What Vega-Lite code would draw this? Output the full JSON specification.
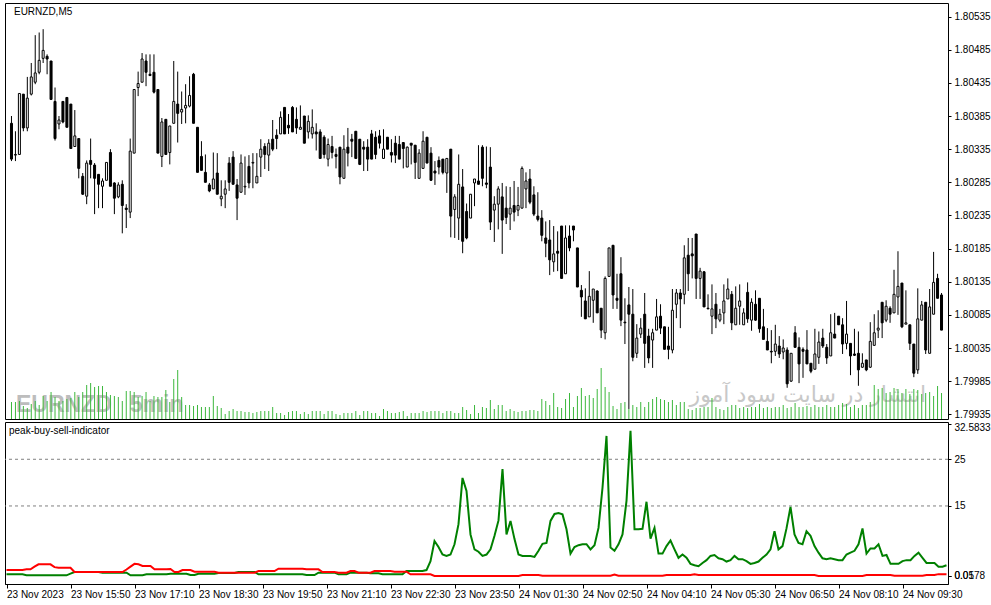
{
"$schema":"https://vega.github.io/schema/vega-lite/v6.json",
"background":"white",
"padding":{"left":2,"top":2,"right":0,"bottom":0},
"spacing":3,
"bounds":"flush",
"config":{"view":{"stroke":"black","strokeWidth":1},"font":"Liberation Sans","axis":{"labelFont":"Liberation Sans","labelFontSize":10,"labelColor":"black","tickColor":"black","domainColor":"black","grid":false,"title":null,"labelOverlap":false}},
"data":{"values":[
{"i":0,"o":1.80374,"h":1.80385,"l":1.80317,"c":1.80320,"v":170,"g":0.36,"r":1.28},
{"i":1,"o":1.80326,"h":1.80362,"l":1.80317,"c":1.80327,"v":170,"g":0.36,"r":1.28},
{"i":2,"o":1.80327,"h":1.80419,"l":1.80327,"c":1.80419,"v":180,"g":0.36,"r":1.28},
{"i":3,"o":1.80418,"h":1.80418,"l":1.80362,"c":1.80367,"v":130,"g":0.36,"r":1.28},
{"i":4,"o":1.80367,"h":1.80444,"l":1.80362,"c":1.80412,"v":110,"g":0.36,"r":1.28},
{"i":5,"o":1.80418,"h":1.80465,"l":1.80416,"c":1.80444,"v":150,"g":0.15,"r":1.43},
{"i":6,"o":1.80436,"h":1.80507,"l":1.80433,"c":1.80450,"v":180,"g":0.15,"r":1.43},
{"i":7,"o":1.80451,"h":1.80511,"l":1.80448,"c":1.80469,"v":140,"g":0.15,"r":2.0},
{"i":8,"o":1.80472,"h":1.80516,"l":1.80465,"c":1.80484,"v":230,"g":0.15,"r":2.5},
{"i":9,"o":1.80475,"h":1.80478,"l":1.80448,"c":1.80471,"v":180,"g":0.15,"r":2.5},
{"i":10,"o":1.80468,"h":1.80468,"l":1.80410,"c":1.80410,"v":270,"g":0.15,"r":2.5},
{"i":11,"o":1.80407,"h":1.80428,"l":1.80348,"c":1.80351,"v":220,"g":0.15,"r":2.5},
{"i":12,"o":1.80373,"h":1.80385,"l":1.80365,"c":1.80379,"v":180,"g":0.15,"r":1.9},
{"i":13,"o":1.80407,"h":1.80407,"l":1.80374,"c":1.80376,"v":180,"g":0.15,"r":1.78},
{"i":14,"o":1.80413,"h":1.80413,"l":1.80368,"c":1.80368,"v":200,"g":0.15,"r":1.78},
{"i":15,"o":1.80403,"h":1.80403,"l":1.80336,"c":1.80336,"v":210,"g":0.15,"r":1.78},
{"i":16,"o":1.80339,"h":1.80394,"l":1.80339,"c":1.80355,"v":270,"g":0.5,"r":1.78},
{"i":17,"o":1.80351,"h":1.80351,"l":1.80291,"c":1.80306,"v":220,"g":0.86,"r":0.86},
{"i":18,"o":1.80294,"h":1.80299,"l":1.80266,"c":1.80267,"v":270,"g":0.86,"r":0.86},
{"i":19,"o":1.80264,"h":1.80318,"l":1.80252,"c":1.80314,"v":340,"g":0.86,"r":0.86},
{"i":20,"o":1.80318,"h":1.80351,"l":1.80291,"c":1.80312,"v":360,"g":0.86,"r":0.86},
{"i":21,"o":1.80311,"h":1.80314,"l":1.80237,"c":1.80291,"v":320,"g":0.86,"r":0.86},
{"i":22,"o":1.80297,"h":1.80297,"l":1.80246,"c":1.80282,"v":330,"g":0.86,"r":0.86},
{"i":23,"o":1.80279,"h":1.80291,"l":1.80246,"c":1.80287,"v":330,"g":0.86,"r":0.86},
{"i":24,"o":1.80288,"h":1.80315,"l":1.80288,"c":1.80315,"v":270,"g":0.71,"r":0.86},
{"i":25,"o":1.80330,"h":1.80335,"l":1.80279,"c":1.80279,"v":240,"g":0.71,"r":0.86},
{"i":26,"o":1.80284,"h":1.80285,"l":1.80237,"c":1.80261,"v":230,"g":0.71,"r":0.86},
{"i":27,"o":1.80263,"h":1.80285,"l":1.80261,"c":1.80281,"v":220,"g":0.71,"r":0.86},
{"i":28,"o":1.80282,"h":1.80288,"l":1.80208,"c":1.80250,"v":180,"g":0.71,"r":0.86},
{"i":29,"o":1.80246,"h":1.80252,"l":1.80216,"c":1.80244,"v":280,"g":0.71,"r":0.86},
{"i":30,"o":1.80240,"h":1.80351,"l":1.80231,"c":1.80332,"v":280,"g":0.71,"r":1.4},
{"i":31,"o":1.80329,"h":1.80425,"l":1.80329,"c":1.80425,"v":270,"g":0.15,"r":2.0},
{"i":32,"o":1.80428,"h":1.80452,"l":1.80415,"c":1.80434,"v":220,"g":0.15,"r":2.6},
{"i":33,"o":1.80436,"h":1.80480,"l":1.80436,"c":1.80471,"v":230,"g":0.15,"r":2.5},
{"i":34,"o":1.80468,"h":1.80478,"l":1.80430,"c":1.80451,"v":270,"g":0.15,"r":2.14},
{"i":35,"o":1.80448,"h":1.80478,"l":1.80446,"c":1.80446,"v":180,"g":0.36,"r":2.14},
{"i":36,"o":1.80451,"h":1.80478,"l":1.80419,"c":1.80421,"v":230,"g":0.36,"r":2.14},
{"i":37,"o":1.80425,"h":1.80425,"l":1.80329,"c":1.80329,"v":220,"g":0.36,"r":1.43},
{"i":38,"o":1.80324,"h":1.80382,"l":1.80308,"c":1.80376,"v":220,"g":0.36,"r":1.43},
{"i":39,"o":1.80380,"h":1.80380,"l":1.80327,"c":1.80327,"v":290,"g":0.36,"r":1.43},
{"i":40,"o":1.80330,"h":1.80370,"l":1.80312,"c":1.80370,"v":170,"g":0.36,"r":1.43},
{"i":41,"o":1.80374,"h":1.80468,"l":1.80374,"c":1.80407,"v":400,"g":0.5,"r":1.5},
{"i":42,"o":1.80403,"h":1.80452,"l":1.80345,"c":1.80389,"v":490,"g":0.5,"r":0.86},
{"i":43,"o":1.80391,"h":1.80422,"l":1.80373,"c":1.80395,"v":220,"g":0.5,"r":0.86},
{"i":44,"o":1.80397,"h":1.80433,"l":1.80374,"c":1.80401,"v":140,"g":0.5,"r":1.28},
{"i":45,"o":1.80400,"h":1.80445,"l":1.80398,"c":1.80416,"v":140,"g":0.5,"r":1.28},
{"i":46,"o":1.80448,"h":1.80450,"l":1.80374,"c":1.80374,"v":130,"g":0.21,"r":1.28},
{"i":47,"o":1.80368,"h":1.80368,"l":1.80300,"c":1.80300,"v":140,"g":0.21,"r":0.93},
{"i":48,"o":1.80324,"h":1.80347,"l":1.80303,"c":1.80303,"v":120,"g":0.5,"r":0.93},
{"i":49,"o":1.80300,"h":1.80327,"l":1.80285,"c":1.80285,"v":120,"g":0.5,"r":0.93},
{"i":50,"o":1.80281,"h":1.80284,"l":1.80270,"c":1.80272,"v":120,"g":0.5,"r":0.93},
{"i":51,"o":1.80275,"h":1.80330,"l":1.80275,"c":1.80290,"v":230,"g":0.5,"r":0.93},
{"i":52,"o":1.80299,"h":1.80329,"l":1.80267,"c":1.80267,"v":130,"g":0.5,"r":0.93},
{"i":53,"o":1.80260,"h":1.80288,"l":1.80249,"c":1.80264,"v":110,"g":0.64,"r":0.71},
{"i":54,"o":1.80267,"h":1.80288,"l":1.80246,"c":1.80275,"v":50,"g":0.64,"r":0.71},
{"i":55,"o":1.80314,"h":1.80323,"l":1.80272,"c":1.80285,"v":80,"g":0.64,"r":0.71},
{"i":56,"o":1.80323,"h":1.80332,"l":1.80282,"c":1.80282,"v":100,"g":0.64,"r":0.71},
{"i":57,"o":1.80281,"h":1.80290,"l":1.80228,"c":1.80261,"v":80,"g":0.64,"r":0.71},
{"i":58,"o":1.80270,"h":1.80327,"l":1.80270,"c":1.80314,"v":80,"g":0.86,"r":0.71},
{"i":59,"o":1.80278,"h":1.80324,"l":1.80266,"c":1.80279,"v":70,"g":0.86,"r":0.71},
{"i":60,"o":1.80309,"h":1.80326,"l":1.80276,"c":1.80284,"v":70,"g":0.86,"r":0.71},
{"i":61,"o":1.80314,"h":1.80329,"l":1.80276,"c":1.80315,"v":60,"g":0.86,"r":0.71},
{"i":62,"o":1.80284,"h":1.80329,"l":1.80284,"c":1.80294,"v":70,"g":0.86,"r":0.71},
{"i":63,"o":1.80323,"h":1.80350,"l":1.80293,"c":1.80335,"v":80,"g":0.36,"r":1.07},
{"i":64,"o":1.80339,"h":1.80344,"l":1.80305,"c":1.80327,"v":80,"g":0.36,"r":1.07},
{"i":65,"o":1.80326,"h":1.80350,"l":1.80302,"c":1.80344,"v":80,"g":0.36,"r":1.07},
{"i":66,"o":1.80350,"h":1.80379,"l":1.80332,"c":1.80335,"v":120,"g":0.36,"r":1.07},
{"i":67,"o":1.80356,"h":1.80365,"l":1.80335,"c":1.80351,"v":60,"g":0.36,"r":1.07},
{"i":68,"o":1.80358,"h":1.80392,"l":1.80358,"c":1.80383,"v":60,"g":0.36,"r":1.57},
{"i":69,"o":1.80398,"h":1.80398,"l":1.80358,"c":1.80358,"v":40,"g":0.36,"r":1.57},
{"i":70,"o":1.80371,"h":1.80388,"l":1.80358,"c":1.80367,"v":70,"g":0.36,"r":1.57},
{"i":71,"o":1.80398,"h":1.80400,"l":1.80361,"c":1.80361,"v":80,"g":0.36,"r":1.57},
{"i":72,"o":1.80380,"h":1.80398,"l":1.80358,"c":1.80367,"v":80,"g":0.36,"r":1.57},
{"i":73,"o":1.80365,"h":1.80401,"l":1.80365,"c":1.80368,"v":50,"g":0.36,"r":1.57},
{"i":74,"o":1.80385,"h":1.80385,"l":1.80344,"c":1.80344,"v":70,"g":0.36,"r":1.57},
{"i":75,"o":1.80361,"h":1.80386,"l":1.80351,"c":1.80377,"v":50,"g":0.21,"r":1.43},
{"i":76,"o":1.80358,"h":1.80395,"l":1.80351,"c":1.80368,"v":80,"g":0.21,"r":1.43},
{"i":77,"o":1.80361,"h":1.80374,"l":1.80333,"c":1.80358,"v":80,"g":0.21,"r":1.43},
{"i":78,"o":1.80361,"h":1.80365,"l":1.80321,"c":1.80321,"v":80,"g":0.71,"r":1.43},
{"i":79,"o":1.80353,"h":1.80356,"l":1.80321,"c":1.80327,"v":50,"g":0.71,"r":0.86},
{"i":80,"o":1.80320,"h":1.80351,"l":1.80309,"c":1.80342,"v":80,"g":0.71,"r":0.86},
{"i":81,"o":1.80339,"h":1.80355,"l":1.80321,"c":1.80330,"v":80,"g":0.71,"r":0.86},
{"i":82,"o":1.80327,"h":1.80336,"l":1.80306,"c":1.80324,"v":50,"g":0.71,"r":0.86},
{"i":83,"o":1.80338,"h":1.80338,"l":1.80282,"c":1.80293,"v":40,"g":0.36,"r":0.71},
{"i":84,"o":1.80291,"h":1.80356,"l":1.80291,"c":1.80335,"v":60,"g":0.36,"r":0.71},
{"i":85,"o":1.80338,"h":1.80367,"l":1.80309,"c":1.80329,"v":60,"g":0.36,"r":0.71},
{"i":86,"o":1.80350,"h":1.80358,"l":1.80323,"c":1.80347,"v":60,"g":0.71,"r":1.07},
{"i":87,"o":1.80362,"h":1.80362,"l":1.80321,"c":1.80321,"v":80,"g":0.71,"r":1.07},
{"i":88,"o":1.80350,"h":1.80350,"l":1.80311,"c":1.80312,"v":40,"g":0.71,"r":0.71},
{"i":89,"o":1.80338,"h":1.80347,"l":1.80302,"c":1.80335,"v":80,"g":0.71,"r":0.71},
{"i":90,"o":1.80338,"h":1.80350,"l":1.80302,"c":1.80320,"v":80,"g":0.71,"r":0.71},
{"i":91,"o":1.80358,"h":1.80364,"l":1.80320,"c":1.80320,"v":60,"g":0.57,"r":0.71},
{"i":92,"o":1.80353,"h":1.80362,"l":1.80320,"c":1.80327,"v":60,"g":0.57,"r":1.07},
{"i":93,"o":1.80355,"h":1.80364,"l":1.80336,"c":1.80344,"v":30,"g":0.57,"r":1.07},
{"i":94,"o":1.80321,"h":1.80365,"l":1.80321,"c":1.80335,"v":100,"g":0.36,"r":1.07},
{"i":95,"o":1.80353,"h":1.80353,"l":1.80335,"c":1.80335,"v":80,"g":0.36,"r":1.07},
{"i":96,"o":1.80330,"h":1.80350,"l":1.80315,"c":1.80326,"v":60,"g":0.36,"r":1.07},
{"i":97,"o":1.80344,"h":1.80355,"l":1.80314,"c":1.80326,"v":60,"g":0.36,"r":0.93},
{"i":98,"o":1.80342,"h":1.80355,"l":1.80320,"c":1.80320,"v":70,"g":0.36,"r":0.93},
{"i":99,"o":1.80345,"h":1.80345,"l":1.80306,"c":1.80336,"v":80,"g":0.36,"r":0.93},
{"i":100,"o":1.80308,"h":1.80339,"l":1.80308,"c":1.80338,"v":30,"g":1.07,"r":0.93},
{"i":101,"o":1.80344,"h":1.80344,"l":1.80312,"c":1.80341,"v":60,"g":1.07,"r":0.36},
{"i":102,"o":1.80341,"h":1.80341,"l":1.80290,"c":1.80315,"v":60,"g":1.07,"r":0.36},
{"i":103,"o":1.80291,"h":1.80335,"l":1.80291,"c":1.80329,"v":60,"g":1.07,"r":0.36},
{"i":104,"o":1.80306,"h":1.80362,"l":1.80306,"c":1.80347,"v":80,"g":1.07,"r":0.36},
{"i":105,"o":1.80353,"h":1.80353,"l":1.80314,"c":1.80314,"v":70,"g":1.28,"r":0.36},
{"i":106,"o":1.80329,"h":1.80338,"l":1.80287,"c":1.80288,"v":80,"g":3.2,"r":0.36},
{"i":107,"o":1.80302,"h":1.80317,"l":1.80281,"c":1.80299,"v":80,"g":7.5,"r":0.02},
{"i":108,"o":1.80318,"h":1.80324,"l":1.80297,"c":1.80308,"v":80,"g":6.2,"r":0.02},
{"i":109,"o":1.80320,"h":1.80320,"l":1.80297,"c":1.80300,"v":60,"g":4.6,"r":0.02},
{"i":110,"o":1.80299,"h":1.80321,"l":1.80269,"c":1.80321,"v":80,"g":4.3,"r":0.02},
{"i":111,"o":1.80335,"h":1.80335,"l":1.80202,"c":1.80234,"v":80,"g":4.6,"r":0.02},
{"i":112,"o":1.80244,"h":1.80267,"l":1.80201,"c":1.80263,"v":60,"g":6.8,"r":0.02},
{"i":113,"o":1.80231,"h":1.80327,"l":1.80198,"c":1.80282,"v":60,"g":11.1,"r":0.02},
{"i":114,"o":1.80278,"h":1.80305,"l":1.80178,"c":1.80196,"v":120,"g":21.0,"r":0.02},
{"i":115,"o":1.80241,"h":1.80253,"l":1.80199,"c":1.80201,"v":90,"g":18.2,"r":0.02},
{"i":116,"o":1.80231,"h":1.80267,"l":1.80231,"c":1.80267,"v":50,"g":8.9,"r":0.02},
{"i":117,"o":1.80284,"h":1.80290,"l":1.80249,"c":1.80290,"v":140,"g":5.7,"r":0.02},
{"i":118,"o":1.80287,"h":1.80341,"l":1.80282,"c":1.80282,"v":60,"g":5.2,"r":0.02},
{"i":119,"o":1.80338,"h":1.80341,"l":1.80279,"c":1.80291,"v":120,"g":4.3,"r":0.02},
{"i":120,"o":1.80284,"h":1.80339,"l":1.80276,"c":1.80282,"v":110,"g":4.6,"r":0.02},
{"i":121,"o":1.80308,"h":1.80338,"l":1.80213,"c":1.80225,"v":190,"g":5.7,"r":0.02},
{"i":122,"o":1.80243,"h":1.80264,"l":1.80195,"c":1.80252,"v":100,"g":8.6,"r":0.02},
{"i":123,"o":1.80252,"h":1.80279,"l":1.80214,"c":1.80275,"v":140,"g":11.9,"r":0.02},
{"i":124,"o":1.80263,"h":1.80284,"l":1.80177,"c":1.80228,"v":140,"g":22.9,"r":0.02},
{"i":125,"o":1.80246,"h":1.80279,"l":1.80222,"c":1.80232,"v":80,"g":8.9,"r":0.02},
{"i":126,"o":1.80237,"h":1.80278,"l":1.80213,"c":1.80246,"v":100,"g":11.8,"r":0.02},
{"i":127,"o":1.80250,"h":1.80287,"l":1.80226,"c":1.80240,"v":80,"g":7.9,"r":0.02},
{"i":128,"o":1.80243,"h":1.80278,"l":1.80234,"c":1.80250,"v":70,"g":4.6,"r":0.02},
{"i":129,"o":1.80246,"h":1.80309,"l":1.80246,"c":1.80306,"v":80,"g":4.3,"r":0.2},
{"i":130,"o":1.80275,"h":1.80300,"l":1.80246,"c":1.80287,"v":80,"g":4.3,"r":0.2},
{"i":131,"o":1.80290,"h":1.80305,"l":1.80252,"c":1.80255,"v":90,"g":4.3,"r":0.2},
{"i":132,"o":1.80266,"h":1.80279,"l":1.80234,"c":1.80237,"v":90,"g":4.1,"r":0.2},
{"i":133,"o":1.80234,"h":1.80270,"l":1.80226,"c":1.80229,"v":80,"g":5.4,"r":0.2},
{"i":134,"o":1.80231,"h":1.80243,"l":1.80196,"c":1.80205,"v":200,"g":6.9,"r":0.05},
{"i":135,"o":1.80201,"h":1.80226,"l":1.80172,"c":1.80193,"v":180,"g":7.1,"r":0.05},
{"i":136,"o":1.80198,"h":1.80228,"l":1.80145,"c":1.80168,"v":140,"g":11.8,"r":0.05},
{"i":137,"o":1.80165,"h":1.80219,"l":1.80150,"c":1.80177,"v":260,"g":13.3,"r":0.05},
{"i":138,"o":1.80181,"h":1.80211,"l":1.80151,"c":1.80178,"v":120,"g":13.5,"r":0.05},
{"i":139,"o":1.80219,"h":1.80219,"l":1.80140,"c":1.80140,"v":110,"g":13.2,"r":0.05},
{"i":140,"o":1.80147,"h":1.80220,"l":1.80147,"c":1.80201,"v":200,"g":10.0,"r":0.05},
{"i":141,"o":1.80204,"h":1.80220,"l":1.80181,"c":1.80186,"v":260,"g":4.8,"r":0.05},
{"i":142,"o":1.80219,"h":1.80219,"l":1.80196,"c":1.80213,"v":120,"g":6.2,"r":0.05},
{"i":143,"o":1.80186,"h":1.80186,"l":1.80127,"c":1.80127,"v":230,"g":6.6,"r":0.05},
{"i":144,"o":1.80122,"h":1.80130,"l":1.80082,"c":1.80112,"v":310,"g":6.8,"r":0.05},
{"i":145,"o":1.80106,"h":1.80125,"l":1.80079,"c":1.80079,"v":230,"g":6.8,"r":0.05},
{"i":146,"o":1.80082,"h":1.80151,"l":1.80082,"c":1.80113,"v":240,"g":5.7,"r":0.05},
{"i":147,"o":1.80107,"h":1.80124,"l":1.80073,"c":1.80124,"v":210,"g":6.6,"r":0.05},
{"i":148,"o":1.80121,"h":1.80122,"l":1.80088,"c":1.80088,"v":300,"g":10.3,"r":0.05},
{"i":149,"o":1.80095,"h":1.80095,"l":1.80050,"c":1.80062,"v":510,"g":18.9,"r":0.05},
{"i":150,"o":1.80058,"h":1.80143,"l":1.80048,"c":1.80140,"v":320,"g":30.0,"r":0.05},
{"i":151,"o":1.80143,"h":1.80186,"l":1.80143,"c":1.80186,"v":270,"g":6.1,"r":0.05},
{"i":152,"o":1.80190,"h":1.80190,"l":1.80094,"c":1.80115,"v":130,"g":5.4,"r":0.3},
{"i":153,"o":1.80110,"h":1.80147,"l":1.80094,"c":1.80107,"v":100,"g":6.8,"r":0.05},
{"i":154,"o":1.80147,"h":1.80172,"l":1.80068,"c":1.80077,"v":160,"g":8.9,"r":0.05},
{"i":155,"o":1.80074,"h":1.80110,"l":1.80041,"c":1.80073,"v":170,"g":16.1,"r":0.05},
{"i":156,"o":1.80100,"h":1.80127,"l":1.79943,"c":1.80086,"v":100,"g":31.1,"r":0.05},
{"i":157,"o":1.80086,"h":1.80124,"l":1.80015,"c":1.80021,"v":140,"g":10.0,"r":0.05},
{"i":158,"o":1.80027,"h":1.80071,"l":1.80020,"c":1.80050,"v":120,"g":10.0,"r":0.05},
{"i":159,"o":1.80056,"h":1.80080,"l":1.80050,"c":1.80065,"v":170,"g":10.1,"r":0.05},
{"i":160,"o":1.80086,"h":1.80118,"l":1.80005,"c":1.80042,"v":120,"g":15.9,"r":0.05},
{"i":161,"o":1.80053,"h":1.80064,"l":1.80012,"c":1.80020,"v":170,"g":8.0,"r":0.05},
{"i":162,"o":1.80047,"h":1.80064,"l":1.80005,"c":1.80058,"v":200,"g":10.3,"r":0.05},
{"i":163,"o":1.80062,"h":1.80109,"l":1.80062,"c":1.80082,"v":220,"g":4.8,"r":0.05},
{"i":164,"o":1.80083,"h":1.80101,"l":1.80056,"c":1.80065,"v":200,"g":4.8,"r":0.05},
{"i":165,"o":1.80067,"h":1.80067,"l":1.80033,"c":1.80033,"v":190,"g":6.4,"r":0.2},
{"i":166,"o":1.80038,"h":1.80067,"l":1.80018,"c":1.80033,"v":170,"g":7.6,"r":0.2},
{"i":167,"o":1.80032,"h":1.80124,"l":1.80027,"c":1.80092,"v":190,"g":5.7,"r":0.2},
{"i":168,"o":1.80101,"h":1.80124,"l":1.80080,"c":1.80118,"v":140,"g":3.9,"r":0.2},
{"i":169,"o":1.80118,"h":1.80124,"l":1.80065,"c":1.80109,"v":170,"g":4.6,"r":0.2},
{"i":170,"o":1.80116,"h":1.80190,"l":1.80101,"c":1.80171,"v":170,"g":3.9,"r":0.2},
{"i":171,"o":1.80175,"h":1.80201,"l":1.80121,"c":1.80147,"v":100,"g":2.6,"r":0.2},
{"i":172,"o":1.80177,"h":1.80201,"l":1.80140,"c":1.80174,"v":90,"g":2.3,"r":0.35},
{"i":173,"o":1.80207,"h":1.80207,"l":1.80109,"c":1.80140,"v":110,"g":2.1,"r":0.2},
{"i":174,"o":1.80140,"h":1.80156,"l":1.80109,"c":1.80151,"v":110,"g":2.8,"r":0.2},
{"i":175,"o":1.80150,"h":1.80151,"l":1.80097,"c":1.80097,"v":120,"g":3.4,"r":0.2},
{"i":176,"o":1.80095,"h":1.80116,"l":1.80094,"c":1.80094,"v":120,"g":4.3,"r":0.2},
{"i":177,"o":1.80083,"h":1.80131,"l":1.80056,"c":1.80094,"v":210,"g":4.5,"r":0.2},
{"i":178,"o":1.80101,"h":1.80118,"l":1.80065,"c":1.80079,"v":120,"g":3.8,"r":0.2},
{"i":179,"o":1.80077,"h":1.80094,"l":1.80074,"c":1.80086,"v":100,"g":3.6,"r":0.2},
{"i":180,"o":1.80088,"h":1.80131,"l":1.80071,"c":1.80106,"v":90,"g":3.1,"r":0.2},
{"i":181,"o":1.80109,"h":1.80140,"l":1.80109,"c":1.80124,"v":120,"g":3.4,"r":0.2},
{"i":182,"o":1.80116,"h":1.80121,"l":1.80062,"c":1.80073,"v":140,"g":4.3,"r":0.2},
{"i":183,"o":1.80070,"h":1.80128,"l":1.80070,"c":1.80095,"v":140,"g":3.6,"r":0.2},
{"i":184,"o":1.80098,"h":1.80131,"l":1.80070,"c":1.80106,"v":110,"g":3.6,"r":0.2},
{"i":185,"o":1.80070,"h":1.80095,"l":1.80070,"c":1.80088,"v":120,"g":3.2,"r":0.2},
{"i":186,"o":1.80119,"h":1.80134,"l":1.80073,"c":1.80079,"v":110,"g":2.6,"r":0.2},
{"i":187,"o":1.80077,"h":1.80110,"l":1.80061,"c":1.80104,"v":120,"g":2.8,"r":0.2},
{"i":188,"o":1.80101,"h":1.80122,"l":1.80076,"c":1.80077,"v":120,"g":3.1,"r":0.2},
{"i":189,"o":1.80110,"h":1.80110,"l":1.80058,"c":1.80064,"v":150,"g":3.9,"r":0.2},
{"i":190,"o":1.80067,"h":1.80094,"l":1.80048,"c":1.80048,"v":110,"g":4.6,"r":0.2},
{"i":191,"o":1.80045,"h":1.80065,"l":1.80032,"c":1.80032,"v":120,"g":5.7,"r":0.2},
{"i":192,"o":1.80030,"h":1.80062,"l":1.80012,"c":1.80029,"v":110,"g":9.6,"r":0.2},
{"i":193,"o":1.80030,"h":1.80070,"l":1.80023,"c":1.80041,"v":120,"g":5.7,"r":0.2},
{"i":194,"o":1.80038,"h":1.80053,"l":1.80020,"c":1.80026,"v":120,"g":6.4,"r":0.2},
{"i":195,"o":1.80029,"h":1.80048,"l":1.80018,"c":1.80035,"v":140,"g":10.2,"r":0.2},
{"i":196,"o":1.80032,"h":1.80036,"l":1.79975,"c":1.79981,"v":110,"g":14.8,"r":0.2},
{"i":197,"o":1.79985,"h":1.80027,"l":1.79984,"c":1.80027,"v":120,"g":8.9,"r":0.2},
{"i":198,"o":1.80058,"h":1.80068,"l":1.80036,"c":1.80036,"v":160,"g":7.1,"r":0.2},
{"i":199,"o":1.80036,"h":1.80051,"l":1.79982,"c":1.80011,"v":120,"g":6.8,"r":0.2},
{"i":200,"o":1.80033,"h":1.80036,"l":1.79990,"c":1.80030,"v":120,"g":9.6,"r":0.2},
{"i":201,"o":1.80032,"h":1.80062,"l":1.80011,"c":1.80011,"v":130,"g":8.6,"r":0.2},
{"i":202,"o":1.80012,"h":1.80012,"l":1.79997,"c":1.80000,"v":120,"g":6.4,"r":0.2},
{"i":203,"o":1.80003,"h":1.80064,"l":1.80003,"c":1.80026,"v":140,"g":5.0,"r":0.02},
{"i":204,"o":1.80021,"h":1.80060,"l":1.80011,"c":1.80044,"v":120,"g":3.8,"r":0.02},
{"i":205,"o":1.80050,"h":1.80064,"l":1.80035,"c":1.80038,"v":120,"g":3.6,"r":0.02},
{"i":206,"o":1.80036,"h":1.80041,"l":1.80011,"c":1.80020,"v":140,"g":3.8,"r":0.02},
{"i":207,"o":1.80023,"h":1.80086,"l":1.80023,"c":1.80058,"v":120,"g":3.6,"r":0.02},
{"i":208,"o":1.80056,"h":1.80088,"l":1.80050,"c":1.80050,"v":120,"g":3.4,"r":0.02},
{"i":209,"o":1.80083,"h":1.80083,"l":1.80070,"c":1.80070,"v":140,"g":3.4,"r":0.02},
{"i":210,"o":1.80070,"h":1.80080,"l":1.80026,"c":1.80041,"v":160,"g":4.6,"r":0.02},
{"i":211,"o":1.80042,"h":1.80106,"l":1.80033,"c":1.80056,"v":150,"g":5.0,"r":0.02},
{"i":212,"o":1.80042,"h":1.80042,"l":1.79994,"c":1.80023,"v":120,"g":5.4,"r":0.02},
{"i":213,"o":1.80026,"h":1.80064,"l":1.80023,"c":1.80024,"v":140,"g":6.8,"r":0.02},
{"i":214,"o":1.80027,"h":1.80060,"l":1.79978,"c":1.80002,"v":110,"g":10.2,"r":0.02},
{"i":215,"o":1.80006,"h":1.80027,"l":1.80005,"c":1.80012,"v":140,"g":4.8,"r":0.2},
{"i":216,"o":1.80017,"h":1.80017,"l":1.80000,"c":1.80002,"v":140,"g":5.9,"r":0.2},
{"i":217,"o":1.80006,"h":1.80074,"l":1.80005,"c":1.80045,"v":170,"g":5.9,"r":0.2},
{"i":218,"o":1.80039,"h":1.80086,"l":1.80039,"c":1.80058,"v":340,"g":6.8,"r":0.2},
{"i":219,"o":1.80062,"h":1.80092,"l":1.80050,"c":1.80065,"v":300,"g":4.3,"r":0.2},
{"i":220,"o":1.80104,"h":1.80104,"l":1.80050,"c":1.80073,"v":310,"g":4.5,"r":0.2},
{"i":221,"o":1.80077,"h":1.80107,"l":1.80074,"c":1.80098,"v":260,"g":2.6,"r":0.2},
{"i":222,"o":1.80095,"h":1.80098,"l":1.80073,"c":1.80086,"v":270,"g":2.6,"r":0.05},
{"i":223,"o":1.80088,"h":1.80153,"l":1.80088,"c":1.80116,"v":310,"g":2.6,"r":0.05},
{"i":224,"o":1.80112,"h":1.80181,"l":1.80085,"c":1.80128,"v":300,"g":3.2,"r":0.05},
{"i":225,"o":1.80133,"h":1.80133,"l":1.80065,"c":1.80067,"v":260,"g":3.4,"r":0.05},
{"i":226,"o":1.80071,"h":1.80122,"l":1.80071,"c":1.80073,"v":300,"g":3.4,"r":0.05},
{"i":227,"o":1.80070,"h":1.80070,"l":1.80032,"c":1.80042,"v":250,"g":4.3,"r":0.05},
{"i":228,"o":1.80041,"h":1.80041,"l":1.79991,"c":1.79997,"v":300,"g":5.0,"r":0.05},
{"i":229,"o":1.80002,"h":1.80125,"l":1.79996,"c":1.80079,"v":290,"g":3.9,"r":0.05},
{"i":230,"o":1.80077,"h":1.80106,"l":1.80077,"c":1.80100,"v":250,"g":2.8,"r":0.2},
{"i":231,"o":1.80104,"h":1.80104,"l":1.80026,"c":1.80032,"v":260,"g":2.8,"r":0.2},
{"i":232,"o":1.80027,"h":1.80124,"l":1.80027,"c":1.80097,"v":270,"g":2.8,"r":0.2},
{"i":233,"o":1.80086,"h":1.80180,"l":1.80086,"c":1.80134,"v":230,"g":2.0,"r":0.4},
{"i":234,"o":1.80140,"h":1.80147,"l":1.80110,"c":1.80110,"v":330,"g":2.0,"r":0.4},
{"i":235,"o":1.80115,"h":1.80118,"l":1.80062,"c":1.80062,"v":260,"g":2.3,"r":0.4}
]},
"vconcat":[
{"width":943,"height":416,
 "layer":[
  {"layer":[
    {"data":{"values":[{}]},"mark":{"type":"text","text":"EURNZD","font":"Liberation Sans","fontWeight":"bold","fontSize":23,"fill":"#bdbdbd","align":"left","baseline":"alphabetic"},
     "encoding":{"x":{"datum":1.125,"type":"quantitative","scale":{"domain":[-0.375,235.375],"nice":false,"zero":false},"axis":null},
                 "y":{"datum":1.79938,"type":"quantitative","scale":{"domain":[1.799279,1.805555],"nice":false,"zero":false},"axis":null}}},
    {"data":{"values":[{}]},"mark":{"type":"text","text":"5min","font":"Liberation Sans","fontWeight":"bold","fontSize":23,"fill":"#bdbdbd","align":"left","baseline":"alphabetic"},
     "encoding":{"x":{"datum":29.9,"type":"quantitative"},"y":{"datum":1.79938,"type":"quantitative"}}},
    {"data":{"values":[{}]},"mark":{"type":"text","text":"انتشار در سایت سود آموز","font":"DejaVu Sans","fontSize":22,"fill":"#c8c8c8","align":"right","baseline":"alphabetic"},
     "encoding":{"x":{"datum":231.1,"type":"quantitative"},"y":{"datum":1.79954,"type":"quantitative"}}}
  ]},
  {"mark":{"type":"bar","size":1,"color":"#3cb83c"},
   "encoding":{"x":{"field":"i","type":"quantitative","scale":{"domain":[-0.375,235.375],"nice":false,"zero":false},"axis":null},
               "y":{"field":"v","type":"quantitative","scale":{"domain":[0,4160],"nice":false},"axis":null}}},
  {"layer":[
    {"mark":{"type":"rule","color":"black","strokeWidth":1},
     "encoding":{"x":{"field":"i","type":"quantitative","scale":{"domain":[-0.375,235.375],"nice":false,"zero":false},"axis":null},
                 "y":{"field":"l","type":"quantitative","scale":{"domain":[1.799279,1.805555],"nice":false,"zero":false},
                      "axis":{"orient":"right","values":[1.79935,1.79985,1.80035,1.80085,1.80135,1.80185,1.80235,1.80285,1.80335,1.80385,1.80435,1.80485,1.80535],"tickCount":40,"format":".5f","tickSize":3,"labelPadding":3,"domain":false,"labelOverlap":false}},
                 "y2":{"field":"h"}}},
    {"mark":{"type":"bar","size":2,"stroke":"black","strokeWidth":1},
     "encoding":{"x":{"field":"i","type":"quantitative"},
                 "y":{"field":"o","type":"quantitative"},"y2":{"field":"c"},
                 "fill":{"condition":{"test":"datum.c > datum.o","value":"white"},"value":"black"}}},
    {"data":{"values":[{}]},"mark":{"type":"text","text":"EURNZD,M5","fontSize":10,"fill":"black","align":"left","baseline":"top"},
     "encoding":{"x":{"datum":0.625,"type":"quantitative"},"y":{"datum":1.80549,"type":"quantitative"}}}
  ]}
 ],
 "resolve":{"scale":{"y":"independent"}}
},
{"width":943,"height":162,
 "layer":[
  {"data":{"values":[{"lvl":15},{"lvl":25}]},
   "mark":{"type":"rule","color":"#808080","strokeDash":[3,3],"strokeWidth":1},
   "encoding":{"y":{"field":"lvl","type":"quantitative","scale":{"domain":[-1.71,32.98],"nice":false,"zero":false},
                    "axis":{"orient":"right","values":[0.0178,0.05,15,25,32.5833],"tickCount":20,"labelExpr":"'' + datum.value","tickSize":3,"labelPadding":3,"domain":false,"labelOverlap":false,
                            "labelOffset":{"condition":{"test":"datum.value > 30","value":4},"value":0}}}}},
  {"mark":{"type":"line","color":"#008000","strokeWidth":2},
   "encoding":{"x":{"field":"i","type":"quantitative","scale":{"domain":[-0.375,235.375],"nice":false,"zero":false},
                    "axis":{"values":[0,16,32,48,64,80,96,112,128,144,160,176,192,208,224],"tickCount":40,"labelExpr":"['23 Nov 2023','23 Nov 15:50','23 Nov 17:10','23 Nov 18:30','23 Nov 19:50','23 Nov 21:10','23 Nov 22:30','23 Nov 23:50','24 Nov 01:30','24 Nov 02:50','24 Nov 04:10','24 Nov 05:30','24 Nov 06:50','24 Nov 08:10','24 Nov 09:30'][round(datum.value/16)]","labelAlign":"left","labelFlush":false,"labelOverlap":false,"tickSize":4,"labelPadding":1}},
               "y":{"field":"g","type":"quantitative"}}},
  {"mark":{"type":"line","color":"#ff0000","strokeWidth":2},
   "encoding":{"x":{"field":"i","type":"quantitative"},"y":{"field":"r","type":"quantitative"}}},
  {"data":{"values":[{}]},"mark":{"type":"text","text":"peak-buy-sell-indicator","fontSize":10,"fill":"black","align":"left","baseline":"top"},
   "encoding":{"x":{"datum":0.625,"type":"quantitative"},"y":{"datum":32.1,"type":"quantitative"}}}
 ]
}
]
}
